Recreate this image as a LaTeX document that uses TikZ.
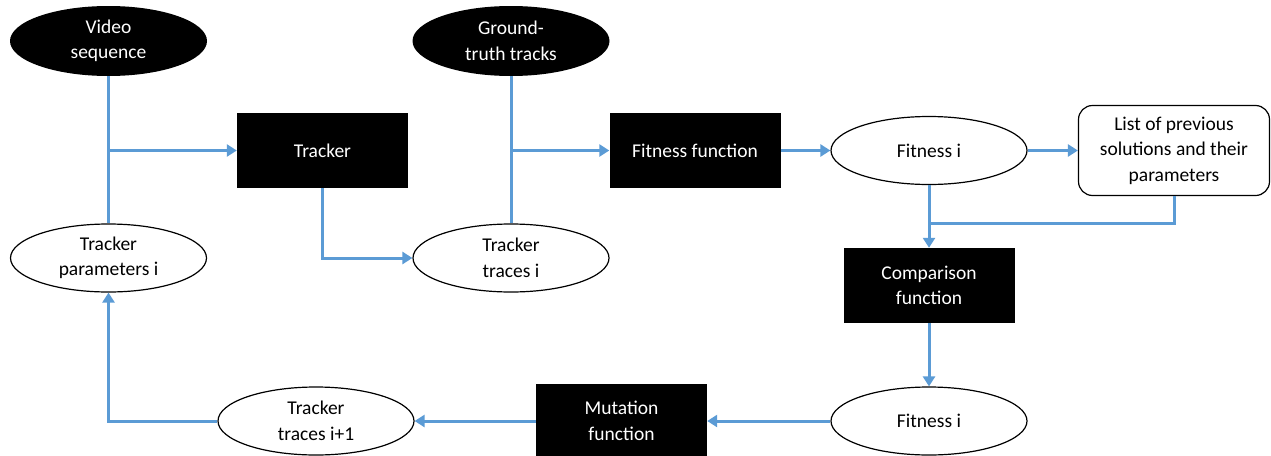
\documentclass[tikz,border=0pt]{standalone}
\usepackage{fontspec}
\setmainfont{Carlito}
\usetikzlibrary{shapes.geometric,arrows.meta}
\definecolor{lblue}{HTML}{5B9BD5}
\begin{document}
\begin{tikzpicture}[x=1pt,y=-1pt,
  every node/.style={font=\fontsize{19.5}{25.5}\selectfont, align=center, inner sep=0pt},
  blackell/.style={ellipse, fill=black, text=white, minimum width=197pt, minimum height=70pt},
  whiteell/.style={ellipse, draw=black, line width=1.2pt, fill=white, minimum width=196pt, minimum height=68pt},
  blackbox/.style={rectangle, fill=black, text=white, minimum width=171pt, minimum height=75pt},
  roundbox/.style={rectangle, rounded corners=14pt, draw=black, line width=1.2pt, fill=white, minimum width=191pt, minimum height=90pt},
  conn/.style={draw=lblue, line width=3pt},
  arr/.style={conn, -{Triangle[length=10pt,width=12pt]}}
]
\useasboundingbox (0,0) rectangle (1271,455);

\node[blackell] (vid) at (108.5,41) {Video\\sequence};
\node[blackell] (gt) at (511,41) {Ground-\\truth tracks};
\node[blackbox] (tracker) at (322.5,150.5) {Tracker};
\node[blackbox] (fitfn) at (695,150.5) {Fitness function};
\node[whiteell] (fit1) at (929,150.5) {Fitness i};
\node[roundbox] (list) at (1174,150.5) {List of previous\\solutions and their\\parameters};
\node[whiteell] (params) at (108.5,258) {Tracker\\parameters i};
\node[whiteell] (traces) at (511,258) {Tracker\\traces i};
\node[blackbox] (comp) at (929,285.5) {Comparison\\function};
\node[whiteell] (fit2) at (929,421) {Fitness i};
\node[blackbox] (mut) at (621.5,421) {Mutation\\function};
\node[whiteell] (traces1) at (316,421) {Tracker\\traces i+1};
\coordinate (jn) at (929,223);

\draw[conn] (vid.south) -- (params.north);
\draw[arr] (vid.south |- tracker.west) -- (tracker.west);
\draw[arr] (tracker.south) |- (traces.west);
\draw[conn] (gt.south) -- (traces.north);
\draw[arr] (gt.south |- fitfn.west) -- (fitfn.west);
\draw[arr] (fitfn.east) -- (fit1.west);
\draw[arr] (fit1.east) -- (list.west);
\draw[arr] (fit1.south) -- (comp.north);
\draw[conn] (list.south) |- (jn);
\draw[arr] (comp.south) -- (fit2.north);
\draw[arr] (fit2.west) -- (mut.east);
\draw[arr] (mut.west) -- (traces1.east);
\draw[arr] (traces1.west) -| (params.south);
\end{tikzpicture}
\end{document}
